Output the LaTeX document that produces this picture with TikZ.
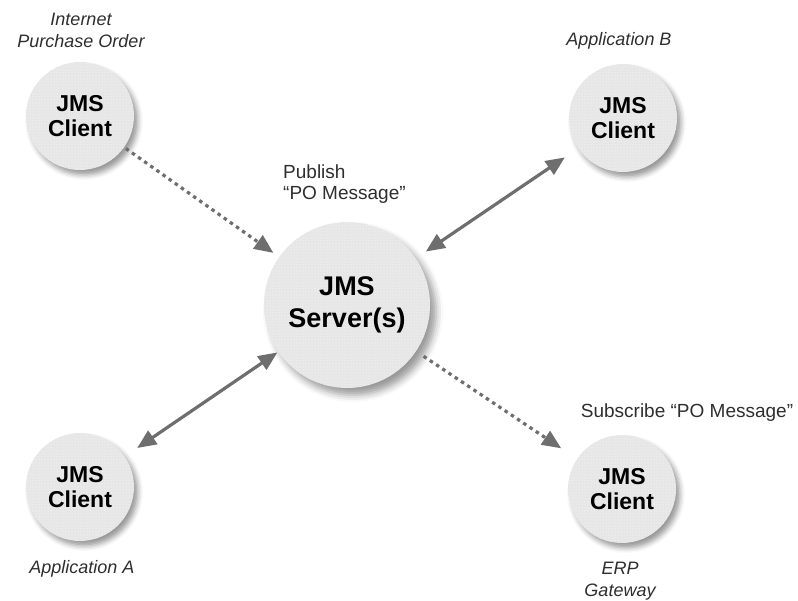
\documentclass[tikz,border=0pt]{standalone}
\usepackage{fontspec}
\setmainfont{Liberation Sans}
\usetikzlibrary{arrows.meta,shadows.blur,patterns}
\definecolor{circfill}{HTML}{E6E6E6}
\definecolor{linegray}{HTML}{6E6E6E}
\definecolor{labelgray}{HTML}{2E2E2E}
\tikzset{
  dotted texture/.style={postaction={pattern=dots,pattern color=white}},
  client/.style={circle,inner sep=0pt,minimum size=108pt,fill=circfill,dotted texture,
    blur shadow={shadow xshift=4pt,shadow yshift=-5pt,shadow blur radius=5pt,shadow opacity=40},
    align=center,font=\bfseries\fontsize{23}{25}\selectfont},
  server/.style={circle,inner sep=0pt,minimum size=166pt,fill=circfill,dotted texture,
    blur shadow={shadow xshift=6pt,shadow yshift=-7pt,shadow blur radius=7pt,shadow opacity=40},
    align=center,font=\bfseries\fontsize{27}{32}\selectfont},
  lbl/.style={inner sep=0pt,align=center,text=labelgray,font=\itshape\fontsize{18}{22}\selectfont},
  msg/.style={inner sep=0pt,align=left,text=labelgray,font=\fontsize{19}{21}\selectfont},
  dashedconn/.style={draw=linegray,line width=3.2pt,dash pattern=on 3.5pt off 4pt,
    -{Triangle[length=19pt,width=16pt]}},
  bothconn/.style={draw=linegray,line width=3.2pt,
    {Triangle[length=19pt,width=16pt]}-{Triangle[length=19pt,width=16pt]}}
}
\begin{document}
\begin{tikzpicture}[x=1pt,y=-1pt]
\useasboundingbox (0,0) rectangle (798,601);
\node[client] (c1) at (80,116) {JMS\\Client};
\node[client] (c2) at (623,118) {JMS\\Client};
\node[client] (c3) at (80,487) {JMS\\Client};
\node[client] (c4) at (622,489) {JMS\\Client};
\node[server] (srv) at (347,305) {JMS\\Server(s)};

\node[lbl] (l1) at (81,30) {Internet\\Purchase Order};
\node[lbl] (l2) at (619,41) {Application B};
\node[lbl] (l3) at (82,569) {Application A};
\node[lbl] (l4) at (620,581) {ERP\\Gateway};
\node[msg,anchor=west] (m1) at (283,184) {Publish\\``PO Message''};
\node[msg] (m2) at (687,413) {Subscribe ``PO Message''};

\draw[dashedconn,shorten <=2pt,shorten >=7pt] (c1) -- (srv);
\draw[bothconn,shorten <=16pt,shorten >=12pt] (c2) -- (srv);
\draw[bothconn,shorten <=15pt,shorten >=1pt] (c3) -- (srv);
\draw[dashedconn,shorten <=9pt,shorten >=19pt] (srv) -- (c4);
\end{tikzpicture}
\end{document}
